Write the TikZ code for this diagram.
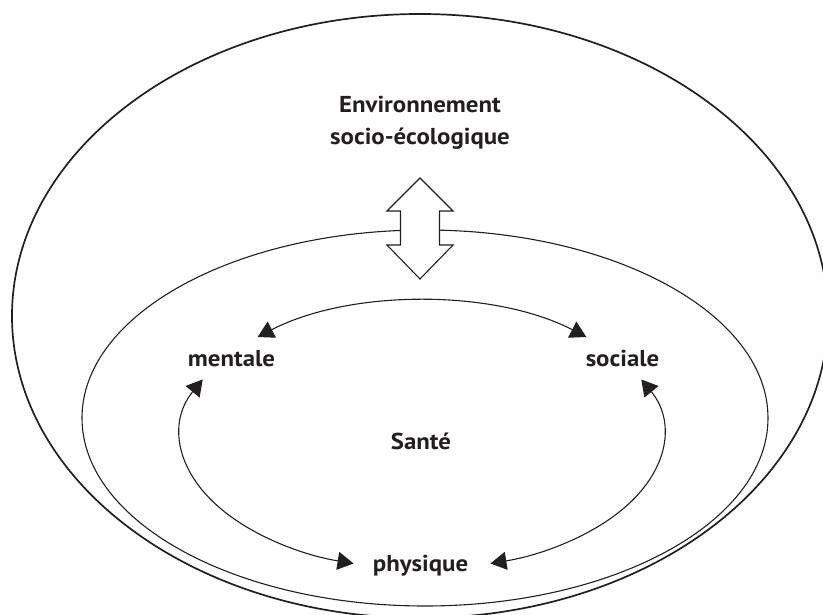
\documentclass[tikz,border=0pt]{standalone}
\usepackage{fontspec}
\setmainfont[FakeStretch=1.08]{PT Sans}
\usetikzlibrary{arrows.meta,calc}
\definecolor{ink}{HTML}{231F20}
\begin{document}
\begin{tikzpicture}[x=1pt,y=1pt,
  lbl/.style={font=\bfseries\fontsize{23pt}{31.5pt}\selectfont, text=ink, inner sep=0pt},
  outerline/.style={draw=ink, line width=1.7pt},
  innerline/.style={draw=ink, line width=1.1pt},
  link/.style={draw=ink, line width=1.1pt, {Triangle[length=16pt,width=18pt]}-{Triangle[length=16pt,width=18pt]}}]
\useasboundingbox (0,0) rectangle (823,614);
\clip (0,0) rectangle (823,614);
\coordinate (Oc) at (420,298);
\coordinate (Ic) at (425,196);
\coordinate (Ac) at (422,179);
% outer and inner ellipses
\draw[outerline] (Oc) ellipse [x radius=408pt, y radius=302pt];
\draw[innerline] (Ic) ellipse [x radius=343pt, y radius=188pt];
% double arrow
\draw[innerline, fill=white, line join=miter]
  (420,436) -- (453,403) -- (439.5,403) -- (439.5,369) -- (453,369) -- (420,335)
  -- (387,369) -- (400.5,369) -- (400.5,403) -- (387,403) -- cycle;
% labels
\node[lbl, anchor=north, align=center] (env) at (420,518) {Environnement\\socio-écologique};
\node[lbl, anchor=base] (mentale) at (231.5,247) {mentale};
\node[lbl, anchor=base] (sociale) at (622.5,247) {sociale};
\node[lbl, anchor=base] (sante) at (421,164) {Santé};
\node[lbl, anchor=base] (physique) at (420.5,42) {physique};
% arc end points
\coordinate (mTop) at ($(Ac)+(133:241pt and 134pt)$);
\coordinate (mBot) at ($(Ac)+(155.5:241pt and 134pt)$);
\coordinate (sBot) at ($(Ac)+(24.5:241pt and 134pt)$);
% connectors
\draw[link] (mTop) arc[start angle=133, end angle=47, x radius=241pt, y radius=134pt];
\draw[link] (mBot) arc[start angle=155.5, end angle=253.5, x radius=241pt, y radius=134pt];
\draw[link] (sBot) arc[start angle=24.5, end angle=-73.5, x radius=241pt, y radius=134pt];
\end{tikzpicture}
\end{document}
